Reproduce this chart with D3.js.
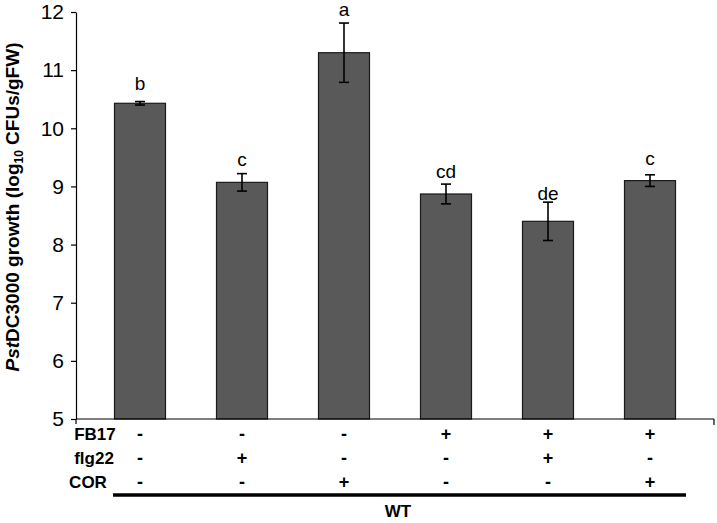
<!DOCTYPE html>
<html>
<head>
<meta charset="utf-8">
<script src="https://cdn.jsdelivr.net/npm/d3@7"></script>
<style>
html,body{margin:0;padding:0;background:#fff;}
svg{display:block;font-family:Arial,"Liberation Sans",sans-serif;}
</style>
</head>
<body>
<svg id="chart" width="717" height="523"></svg>
<script>
const categories = ["1","2","3","4","5","6"];
const means = [10.43, 9.07, 11.30, 8.87, 8.40, 9.10];
const errors = [0.03, 0.15, 0.51, 0.17, 0.33, 0.10];
const letters = ["b","c","a","cd","de","c"];
const fb17 = ["-","-","-","+","+","+"];
const flg22 = ["-","+","-","-","+","-"];
const cor = ["-","-","+","-","-","+"];
const yTicks = [5,6,7,8,9,10,11,12];

const svg = d3.select("#chart");
const y = d3.scaleLinear().domain([5,12]).range([419,12]);
const x = d3.scaleBand().domain(categories).range([89,701]).paddingInner(0.5).paddingOuter(0.25);

// y axis
const yAxis = d3.axisLeft(y).tickValues(yTicks).tickFormat(d3.format("d")).tickSize(5).tickSizeOuter(0).tickPadding(7);
const gy = svg.append("g").attr("transform","translate(76,0)").call(yAxis);
gy.select(".domain").attr("stroke","#000").attr("stroke-width",1.2);
gy.selectAll(".tick line").attr("stroke","#000").attr("stroke-width",1.2);
gy.selectAll(".tick text").attr("font-size",21).attr("fill","#000").attr("font-family","Arial, 'Liberation Sans', sans-serif");
svg.append("line").attr("x1",76).attr("x2",76).attr("y1",y(5)).attr("y2",y(5)+5).attr("stroke","#000").attr("stroke-width",1.2);

// bars
svg.append("g").selectAll("rect").data(means).join("rect")
  .attr("x",(d,i)=>x(categories[i]))
  .attr("y",d=>y(d))
  .attr("width",x.bandwidth())
  .attr("height",d=>y(5)-y(d))
  .attr("fill","#595959")
  .attr("stroke","#1a1a1a")
  .attr("stroke-width",1.2);

// x axis line
svg.append("line").attr("x1",76).attr("x2",714).attr("y1",y(5)).attr("y2",y(5)).attr("stroke","#000").attr("stroke-width",1.2);
svg.append("line").attr("x1",714).attr("x2",714).attr("y1",y(5)).attr("y2",y(5)+6).attr("stroke","#000").attr("stroke-width",1.2);

// error bars
const eb = svg.append("g").attr("stroke","#000").attr("stroke-width",1.6);
means.forEach((m,i)=>{
  const cx = x(categories[i]) + x.bandwidth()/2;
  const t = y(m+errors[i]), b = y(m-errors[i]);
  eb.append("line").attr("x1",cx).attr("x2",cx).attr("y1",t).attr("y2",b);
  eb.append("line").attr("x1",cx-5).attr("x2",cx+5).attr("y1",t).attr("y2",t);
  eb.append("line").attr("x1",cx-5).attr("x2",cx+5).attr("y1",b).attr("y2",b);
});

// letters
const letterGap = [12, 8, 7, 6, 2, 10];
svg.append("g").selectAll("text").data(letters).join("text")
  .attr("x",(d,i)=>x(categories[i]) + x.bandwidth()/2)
  .attr("y",(d,i)=>y(means[i]+errors[i]) - letterGap[i])
  .attr("text-anchor","middle")
  .attr("font-size",19)
  .attr("fill","#000")
  .text(d=>d);

// treatment table
const rows = [{name:"FB17", vals:fb17, y:434, lx:95},
              {name:"flg22", vals:flg22, y:458, lx:94},
              {name:"COR", vals:cor, y:482, lx:88}];
rows.forEach(r=>{
  svg.append("text").attr("x",r.lx).attr("y",r.y).attr("dy","0.35em")
    .attr("text-anchor","middle").attr("font-size",17).attr("font-weight","bold").text(r.name);
  svg.append("g").selectAll("text").data(r.vals).join("text")
    .attr("x",(d,i)=>x(categories[i]) + x.bandwidth()/2)
    .attr("y",r.y).attr("dy","0.35em")
    .attr("text-anchor","middle").attr("font-size",18).attr("font-weight","bold")
    .text(d=>d);
});

svg.append("line").attr("x1",113).attr("x2",686).attr("y1",495).attr("y2",495).attr("stroke","#000").attr("stroke-width",3.5);
svg.append("text").attr("x",398).attr("y",511).attr("dy","0.35em").attr("text-anchor","middle")
  .attr("font-size",17).attr("font-weight","bold").text("WT");

// y label
const yl = svg.append("text").attr("transform","translate(19,207) rotate(-90)")
  .attr("text-anchor","middle").attr("font-size",19).attr("font-weight","bold").attr("fill","#000");
yl.append("tspan").attr("font-style","italic").text("Pst");
yl.append("tspan").text("DC3000 growth (log");
yl.append("tspan").attr("font-size",12).attr("dy",4).text("10");
yl.append("tspan").attr("dy",-4).text(" CFUs/gFW)");
</script>
</body>
</html>
